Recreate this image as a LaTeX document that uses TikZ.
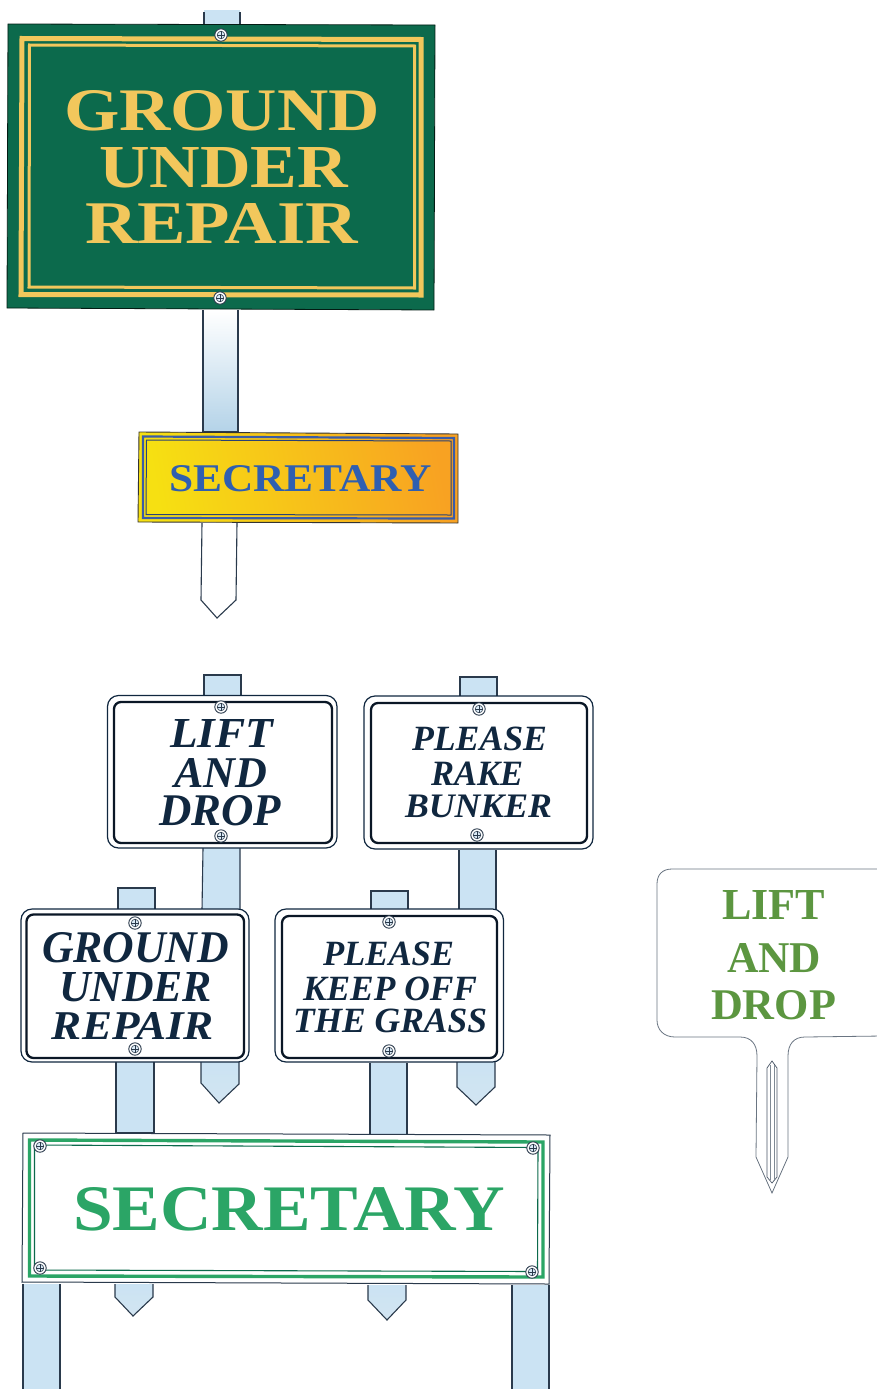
\documentclass[tikz,border=0pt]{standalone}
\usepackage{graphicx}
\usepackage{fontspec}
\setmainfont{Liberation Serif}
\definecolor{postblue}{HTML}{CBE3F3}
\definecolor{postdark}{HTML}{B4D3E8}
\definecolor{postline}{HTML}{2A3A4C}
\definecolor{navy}{HTML}{10273F}
\definecolor{signgreen}{HTML}{0C6A4C}
\definecolor{gold}{HTML}{F2C75C}
\definecolor{secblue}{HTML}{2F5FB0}
\definecolor{bandblue}{HTML}{3A5CA8}
\definecolor{brightgreen}{HTML}{2BA566}
\definecolor{stakegreen}{HTML}{5C9640}
\definecolor{amberL}{HTML}{F6E012}
\definecolor{amberR}{HTML}{F8A222}
\tikzset{
  post/.style={draw=postline,line width=1.1pt,fill=postblue},
  tippost/.style={draw=postline,line width=1.1pt,top color=postblue,bottom color=postdark!60!white},
  outerboard/.style={draw=navy,line width=1.2pt,fill=white,rounded corners=11pt},
  innerboard/.style={draw=navy!60!black,line width=2.3pt,rounded corners=7pt},
  screwhead/.style={draw=postline,line width=0.9pt,fill=white},
  screwcore/.style={draw=postline,line width=0.6pt,fill=postblue!70!white},
  goldband/.style={draw=gold,line join=miter},
  lettering/.style={inner sep=0pt,outer sep=0pt,anchor=base west}
}
\newcommand{\lbl}[8]{\node[lettering,text=#6] (#1) at (#2,#3) {\resizebox{#4pt}{#5pt}{#7{}#8}};}
\newcommand{\screw}[2]{%
  \fill[screwhead] (#1,#2) circle (6.2);
  \fill[screwcore] (#1,#2) circle (3.8);
  \draw[postline,line width=0.7pt] (#1-3.6,#2) -- (#1+3.6,#2) (#1,#2-3.6) -- (#1,#2+3.6);}
\newcommand{\bi}{\bfseries\itshape}
\begin{document}
\begin{tikzpicture}[x=1pt,y=-1pt]
\useasboundingbox (0,0) rectangle (877,1389);

% --- top group: posts ---
\fill[postblue] (204,10) rectangle (240,24);
\draw[postline,line width=1.1pt] (204,24) -- (204,12) (240,24) -- (240,12);
\shade[top color=white,bottom color=postdark,draw=postline,line width=1.1pt] (203,310) -- (203,432) -- (238,432) -- (238,310);
\draw[draw=postline,line width=1.1pt,fill=white] (202,523) -- (201,600) -- (217,618) -- (236,600) -- (237,523);

% GROUND UNDER REPAIR green sign
\fill[signgreen] (8,24) -- (435,25) -- (434,310) -- (7,308) -- cycle;
\draw[black!75!signgreen,line width=0.8pt] (8,24) -- (435,25) -- (434,310) -- (7,308) -- cycle;
\draw[goldband,line width=5pt] (22,38.5) -- (421,39.5) -- (421,295) -- (21,294.5) -- cycle;
\draw[goldband,line width=3pt] (29.5,45) -- (414.5,46) -- (414.5,288) -- (29,287) -- cycle;
\lbl{guTop}{64}{130}{316}{40}{gold}{\bfseries}{GROUND}
\lbl{guMid}{99}{187}{249}{40}{gold}{\bfseries}{UNDER}
\lbl{guBot}{85}{243}{273}{40}{gold}{\bfseries}{REPAIR}
\screw{221}{35}
\screw{220}{298}

% SECRETARY gold sign
\shade[left color=amberL,right color=amberR,shading angle=100,draw=black!80,line width=0.9pt]
  (139,432) -- (458,434) -- (458,523) -- (138,522) -- cycle;
\draw[bandblue,line width=2.2pt] (143,436.5) -- (454,438) -- (454,518.5) -- (143,518) -- cycle;
\draw[bandblue!70!black,line width=1pt] (146.5,440) -- (451,441) -- (451,515) -- (146,514.5) -- cycle;
\lbl{secGold}{169}{491}{263}{26}{secblue}{\bfseries}{SECRETARY}

% --- middle group: posts ---
\path[post] (204,696) -- (204,675) -- (241,675) -- (241,696);
\path[post] (460,697) -- (460,677) -- (497,677) -- (497,697);
\path[post] (203,848) -- (202,910) -- (240,910) -- (240,848);
\path[post] (459,850) -- (459,910) -- (496,910) -- (496,850);
\path[tippost] (201,1062) -- (201,1083) -- (219,1103) -- (239,1084) -- (239,1062);
\path[tippost] (457,1062) -- (457,1087) -- (476,1105) -- (495,1087) -- (495,1062);
\path[post] (118,909) -- (118,888) -- (155,888) -- (155,909);
\path[post] (371,909) -- (371,891) -- (408,891) -- (408,909);
\path[post] (116,1062) -- (116,1133) -- (154,1133) -- (154,1062);
\path[post] (370,1063) -- (370,1135) -- (407,1135) -- (407,1063);

% LIFT AND DROP board
\draw[outerboard] (107.5,695.5) rectangle (337,848);
\draw[innerboard] (114,702) rectangle (332,843);
\lbl{ladA}{170}{747}{103}{28}{navy}{\bi}{LIFT}
\lbl{ladB}{174}{787}{93}{29}{navy}{\bi}{AND}
\lbl{ladC}{159}{825}{122}{30}{navy}{\bi}{DROP}
\screw{221}{707}
\screw{221}{836}

% PLEASE RAKE BUNKER board
\draw[outerboard] (364,696) rectangle (593,849);
\draw[innerboard] (371,703) rectangle (587,843);
\lbl{prbA}{412}{750}{135}{23.5}{navy}{\bi}{PLEASE}
\lbl{prbB}{431}{785}{92}{23.5}{navy}{\bi}{RAKE}
\lbl{prbC}{405}{817}{147}{22.5}{navy}{\bi}{BUNKER}
\screw{479}{709}
\screw{477}{835}

% GROUND UNDER REPAIR white board
\draw[outerboard] (21,909) rectangle (249,1062);
\draw[innerboard] (26.5,914.5) rectangle (244,1058);
\lbl{gwA}{42}{962}{187}{30}{navy}{\bi}{GROUND}
\lbl{gwB}{59}{1001}{153}{29}{navy}{\bi}{UNDER}
\lbl{gwC}{52}{1039}{162}{27}{navy}{\bi}{REPAIR}
\screw{135}{923}
\screw{135}{1049}

% PLEASE KEEP OFF THE GRASS board
\draw[outerboard] (275,909) rectangle (503.5,1062);
\draw[innerboard] (282,916) rectangle (497,1058);
\lbl{pkA}{323}{965}{131}{23.5}{navy}{\bi}{PLEASE}
\lbl{pkB}{303}{1000}{174}{23.5}{navy}{\bi}{KEEP OFF}
\lbl{pkC}{293}{1032}{194}{23.5}{navy}{\bi}{THE GRASS}
\screw{389}{922}
\screw{389}{1051}

% --- bottom group: posts ---
\path[post] (23,1284) -- (23,1392) -- (60,1392) -- (60,1284);
\path[post] (512,1285) -- (512,1392) -- (549,1392) -- (549,1285);
\path[tippost] (115,1284) -- (115,1297) -- (133,1316) -- (153,1297) -- (153,1284);
\path[tippost] (368,1285) -- (368,1300) -- (387,1320) -- (406,1300) -- (406,1285);

% SECRETARY green board
\draw[postline,line width=1pt,fill=white] (23,1133) -- (550,1135) -- (549,1284) -- (22,1282) -- cycle;
\draw[brightgreen,line width=3.4pt] (29.5,1140) -- (543,1142) -- (543,1277) -- (29.5,1276) -- cycle;
\draw[signgreen,line width=1.1pt] (34.5,1145) -- (538,1147.5) -- (537.5,1271.5) -- (34.5,1270) -- cycle;
\lbl{secGreen}{73}{1230}{432}{43}{brightgreen}{\bfseries}{SECRETARY}
\screw{40}{1146}
\screw{533}{1148}
\screw{40}{1268}
\screw{532}{1272}

% stake on the right
\draw[postline!70,line width=0.8pt,fill=white]
  (882,869) -- (672,869) .. controls (662,869) and (657,875) .. (657,884)
  -- (657,1020) .. controls (657,1030) and (664,1037) .. (675,1037)
  -- (740,1037) .. controls (751,1037) and (757,1044) .. (757,1056)
  -- (756,1157) -- (772,1193) -- (788,1157) -- (788,1056)
  .. controls (788,1044) and (794,1037) .. (805,1037) -- (882,1036);
\draw[postline!85,line width=0.7pt] (767,1068) -- (772,1061) -- (777,1068) -- (777,1177) -- (772,1183) -- (767,1177) -- cycle;
\draw[postline!60,line width=0.6pt] (770,1065) -- (770,1180) (774,1065) -- (774,1180);
\lbl{stA}{722}{919}{103}{29}{stakegreen}{\bfseries}{LIFT}
\lbl{stB}{727}{972}{94}{29}{stakegreen}{\bfseries}{AND}
\lbl{stC}{711}{1019}{125}{29}{stakegreen}{\bfseries}{DROP}
\end{tikzpicture}
\end{document}
